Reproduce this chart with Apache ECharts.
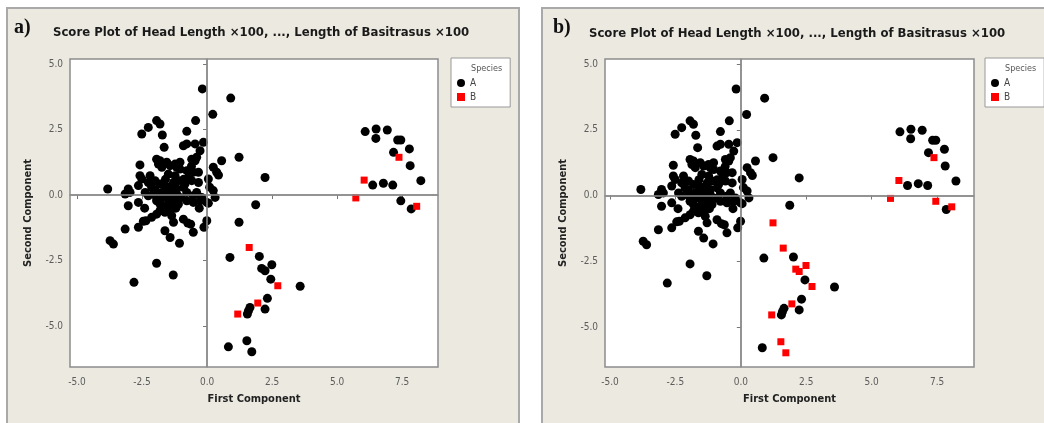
<!DOCTYPE html>
<html>
<head>
<meta charset="utf-8">
<script src="https://cdn.jsdelivr.net/npm/echarts@6/dist/echarts.min.js"></script>
<style>
  html, body { margin: 0; padding: 0; background: #ffffff; }
  #chart { width: 1044px; height: 423px; }
</style>
</head>
<body>
<div id="chart"></div>
<script>
// Score points (First Component, Second Component)
// species A in both plots
const pointsA = [
  [-0.18, 4.05], [0.91, 3.70], [0.22, 3.08], [-1.94, 2.84], [-1.81, 2.71], [-2.26, 2.58],
  [-2.51, 2.33], [-1.72, 2.29], [-0.44, 2.84], [-0.78, 2.43], [1.23, 1.44], [2.23, 0.67],
  [1.87, -0.37],
  [-1.65, 1.82], [-0.14, 2.01], [-0.46, 1.95], [-0.78, 1.95], [-0.91, 1.88], [-0.27, 1.69],
  [-2.58, 1.15], [-1.94, 1.37], [-1.81, 1.31], [-1.87, 1.18], [-1.55, 1.25], [-1.23, 1.18],
  [-1.04, 1.25], [-0.40, 1.44], [-0.46, 1.31], [0.56, 1.31], [-0.59, 1.37],
  [-1.74, 1.06], [-1.42, 1.12], [-1.17, 1.06], [-1.04, 0.99], [-0.78, 0.93], [-0.53, 0.87],
  [-0.33, 0.87], [0.24, 1.06], [0.37, 0.87], [0.44, 0.76], [-2.58, 0.74], [-2.19, 0.74],
  [-1.49, 0.80], [-1.23, 0.74],
  [-2.51, 0.61], [-2.26, 0.48], [-2.00, 0.55], [-1.81, 0.42], [-1.62, 0.36], [-1.29, 0.48],
  [-1.10, 0.55], [-0.85, 0.42], [-0.59, 0.55], [-0.33, 0.48], [0.05, 0.61], [-2.64, 0.36],
  [-2.13, 0.29], [-1.49, 0.23], [-1.17, 0.23], [-0.91, 0.29],
  [-3.82, 0.23], [-3.03, 0.23], [-2.96, 0.10], [-3.15, 0.04], [-2.38, 0.10], [-2.26, -0.03],
  [-2.06, 0.04], [-1.94, -0.09], [-1.74, 0.10], [-1.55, -0.03], [-1.36, -0.09], [-1.17, 0.04],
  [-0.78, 0.10], [-0.53, -0.03], [-0.21, -0.09], [0.24, 0.17], [0.31, -0.09], [-0.01, -0.28],
  [-2.64, -0.28], [-3.03, -0.41], [-1.94, -0.22], [-1.81, -0.34], [-1.68, -0.47], [-1.55, -0.41],
  [-1.42, -0.28], [-1.23, -0.22], [-1.10, -0.34], [-0.78, -0.22], [-0.53, -0.28], [-0.27, -0.22],
  [0.05, -0.31], [-1.81, -0.60], [-1.62, -0.66], [-1.36, -0.53],
  [-1.60, 0.00], [-1.50, -0.15], [-1.70, -0.10], [-1.45, 0.30], [-1.30, 0.15], [-1.00, -0.10],
  [-0.90, 0.60], [-0.70, 0.70], [-0.60, 1.10], [-1.60, 0.60], [-2.00, 0.20], [-1.20, -0.50],
  [-0.40, 0.10], [-0.30, -0.50], [0.10, 0.30], [-2.40, -0.50],
  [-2.13, -0.85], [-1.94, -0.73], [-2.45, -1.00], [-2.35, -0.98], [-1.36, -0.79], [-1.29, -1.04],
  [-0.91, -0.92], [-0.74, -1.07], [-0.63, -1.11], [-3.15, -1.30], [-2.64, -1.23], [-1.62, -1.36],
  [-1.42, -1.62], [-1.06, -1.84], [-0.53, -1.42], [-0.12, -1.23], [-0.01, -0.98], [-3.73, -1.74],
  [-3.60, -1.87],
  [-1.94, -2.60], [-1.30, -3.05], [-2.81, -3.33], [0.88, -2.38], [2.01, -2.34], [2.45, -3.21],
  [3.58, -3.48], [2.32, -3.94], [2.23, -4.35], [1.65, -4.29], [1.59, -4.42], [1.55, -4.54],
  [0.82, -5.79],
  [6.08, 2.42], [6.50, 2.52], [6.93, 2.48], [6.49, 2.16], [7.33, 2.10], [7.45, 2.10],
  [7.78, 1.76], [7.17, 1.63], [7.81, 1.12], [8.22, 0.55], [6.37, 0.38], [6.78, 0.45],
  [7.14, 0.38], [7.85, -0.53]
];
// A in plot a), B in plot b)
const pointsSwitched = [
  [1.23, -1.04], [2.10, -2.80], [2.23, -2.89], [2.49, -2.66], [1.53, -5.56], [1.72, -5.98],
  [7.45, -0.22]
];
// species B in both plots
const pointsB = [
  [7.38, 1.44], [6.04, 0.57], [5.72, -0.11], [8.06, -0.43], [1.62, -2.00], [2.72, -3.46],
  [1.95, -4.12], [1.18, -4.54]
];

const xTicks = [-5, -2.5, 0, 2.5, 5, 7.5];
const yTicks = [-5, -2.5, 0, 2.5, 5];
const refLines = [{ xAxis: 0 }, { yAxis: 0 }];

const titleText = 'Score Plot of Head Length \u00d7100, ..., Length of Basitrasus \u00d7100';
const panelLabels = ['a)', 'b)'];

const labelFont = "'DejaVu Sans Condensed', 'Liberation Sans', sans-serif";
const titleFont = "bold 13px 'DejaVu Sans Condensed', 'Liberation Sans', sans-serif";

const makeX = (idx, min, max) => ({
  gridIndex: idx,
  type: 'value',
  min: min,
  max: max,
  name: 'First Component',
  nameLocation: 'middle',
  nameGap: 27,
  nameTextStyle: { fontSize: 11, fontWeight: 'bold', color: '#222', fontFamily: labelFont },
  axisLine: { show: true, lineStyle: { color: '#8c8c8c', width: 1.5 } },
  axisTick: { show: true, inside: false, length: 4, customValues: xTicks, lineStyle: { color: '#777' } },
  axisLabel: {
    customValues: xTicks, margin: 10, fontSize: 10, color: '#5c5c5c', fontFamily: labelFont,
    formatter: v => v.toFixed(1)
  },
  splitLine: { show: false }
})

const makeY = (idx, min, max) => ({
  gridIndex: idx,
  type: 'value',
  min: min,
  max: max,
  name: 'Second Component',
  nameLocation: 'middle',
  nameGap: 36,
  nameTextStyle: { fontSize: 11, fontWeight: 'bold', color: '#222', fontFamily: labelFont },
  axisLine: { show: true, lineStyle: { color: '#8c8c8c', width: 1.5 } },
  axisTick: { show: true, inside: false, length: 4, customValues: yTicks, lineStyle: { color: '#777' } },
  axisLabel: {
    customValues: yTicks, margin: 7, fontSize: 10, color: '#5c5c5c', fontFamily: labelFont,
    formatter: v => v.toFixed(1)
  },
  splitLine: { show: false }
})

const scatterA = (idx, data) => ({
  name: 'A', type: 'scatter', xAxisIndex: idx, yAxisIndex: idx, z: 3,
  symbol: 'circle', symbolSize: 9, itemStyle: { color: '#000', opacity: 1 }, data: data
})

const scatterB = (idx, data) => ({
  name: 'B', type: 'scatter', xAxisIndex: idx, yAxisIndex: idx, z: 4,
  symbol: 'rect', symbolSize: 7, itemStyle: { color: '#ff0000', opacity: 1 }, data: data
})

const refSeries = idx => ({
  name: 'ref', type: 'scatter', xAxisIndex: idx, yAxisIndex: idx, z: 1, data: [],
  markLine: {
    silent: true, symbol: 'none', label: { show: false },
    lineStyle: { color: '#8c8c8c', type: 'solid', width: 1.5 },
    data: refLines
  }
})

const makeLegend = left => ({
  left: left, top: 58, orient: 'vertical',
  data: [{ name: 'A', icon: 'circle' }, { name: 'B', icon: 'rect' }],
  itemWidth: 8, itemHeight: 8, itemGap: 4,
  padding: [20, 34, 5, 6],
  backgroundColor: '#fff', borderColor: '#999', borderWidth: 1,
  textStyle: { fontSize: 10, color: '#444', fontFamily: labelFont }
})

const chart = echarts.init(document.getElementById('chart'))

chart.setOption({
  backgroundColor: '#ffffff',
  animation: false,
  graphic: [
    { type: 'rect', z: -10, shape: { x: 7, y: 8, width: 512, height: 430 }, style: { fill: '#ece9e0', stroke: '#a9a9a9', lineWidth: 2 } },
    { type: 'rect', z: -10, shape: { x: 542, y: 8, width: 520, height: 430 }, style: { fill: '#ece9e0', stroke: '#a9a9a9', lineWidth: 2 } },
    { type: 'text', z: 100, left: 14, top: 18, style: { text: panelLabels[0], font: "bold 20px 'Liberation Serif', serif", fill: '#111' } },
    { type: 'text', z: 100, left: 553, top: 18, style: { text: panelLabels[1], font: "bold 20px 'Liberation Serif', serif", fill: '#111' } },
    { type: 'text', z: 100, left: 53, top: 26, style: { text: titleText, font: titleFont, fill: '#1a1a1a' } },
    { type: 'text', z: 100, left: 589, top: 27, style: { text: titleText, font: titleFont, fill: '#1a1a1a' } },
    { type: 'text', z: 100, left: 471, top: 64, style: { text: 'Species', font: "9px 'DejaVu Sans Condensed', sans-serif", fill: '#555' } },
    { type: 'text', z: 100, left: 1005, top: 64, style: { text: 'Species', font: "9px 'DejaVu Sans Condensed', sans-serif", fill: '#555' } }
  ],
  legend: [makeLegend(451), makeLegend(985)],
  grid: [
    { left: 70, top: 59, width: 368, height: 308, show: true, backgroundColor: '#fff', borderColor: '#8c8c8c', borderWidth: 1.5 },
    { left: 605, top: 59, width: 369, height: 308, show: true, backgroundColor: '#fff', borderColor: '#8c8c8c', borderWidth: 1.5 }
  ],
  xAxis: [makeX(0, -5.27, 8.88), makeX(1, -5.19, 8.91)],
  yAxis: [makeY(0, -6.56, 5.19), makeY(1, -6.52, 5.19)],
  series: [
    refSeries(0),
    scatterA(0, pointsA.concat(pointsSwitched)),
    scatterB(0, pointsB),
    refSeries(1),
    scatterA(1, pointsA),
    scatterB(1, pointsB.concat(pointsSwitched))
  ]
})
</script>
</body>
</html>
